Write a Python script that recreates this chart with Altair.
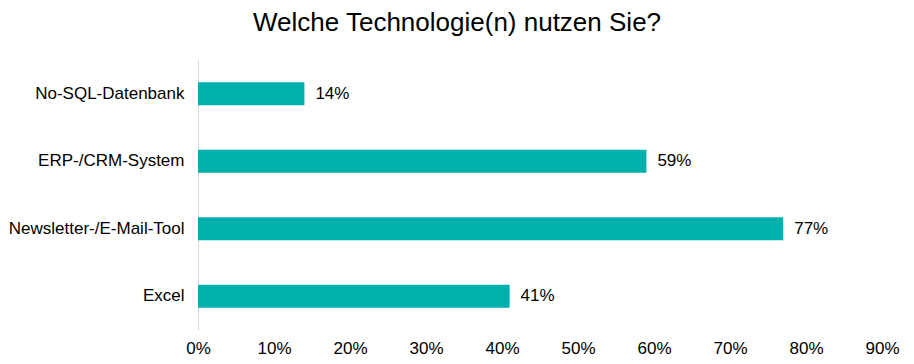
import altair as alt
import pandas as pd

categories = ["No-SQL-Datenbank", "ERP-/CRM-System", "Newsletter-/E-Mail-Tool", "Excel"]
values = [0.14, 0.59, 0.77, 0.41]
x_ticks = [0, 0.1, 0.2, 0.3, 0.4, 0.5, 0.6, 0.7, 0.8, 0.9]

df = pd.DataFrame({"Technologie": categories, "Anteil": values})

FONT = "Liberation Sans"
COLOR = "#00B0AD"

y_enc = alt.Y(
    "Technologie:N",
    sort=categories,
    title=None,
    scale=alt.Scale(paddingInner=0.66, paddingOuter=0.33),
    axis=alt.Axis(
        ticks=False,
        domain=True,
        domainColor="#D9D9D9",
        domainWidth=1,
        labelFont=FONT,
        labelFontSize=17,
        labelColor="#000000",
        labelPadding=14,
        grid=False,
    ),
)

x_enc = alt.X(
    "Anteil:Q",
    title=None,
    scale=alt.Scale(domain=[0, 0.9], nice=False),
    axis=alt.Axis(
        values=x_ticks,
        format=".0%",
        ticks=False,
        domain=False,
        grid=False,
        labelFont=FONT,
        labelFontSize=17,
        labelColor="#000000",
        labelPadding=10,
        labelFlush=False,
    ),
)

bars = alt.Chart(df).mark_bar(color=COLOR).encode(x=x_enc, y=y_enc)

labels = alt.Chart(df).mark_text(
    align="left", baseline="middle", dx=11, font=FONT, fontSize=17, color="#000000"
).encode(
    x=alt.X("Anteil:Q"),
    y=alt.Y("Technologie:N", sort=categories),
    text=alt.Text("Anteil:Q", format=".0%"),
)

chart = (
    alt.layer(bars, labels)
    .properties(
        width=684,
        height=270,
        autosize=alt.AutoSizeParams(type="none"),
        padding={"left": 190, "top": 52, "right": 22, "bottom": 31},
        background="white",
        title=alt.TitleParams(
            "Welche Technologie(n) nutzen Sie?",
            font=FONT,
            fontSize=26,
            fontWeight="normal",
            color="#000000",
            anchor="middle",
            dx=-83,
            offset=24,
        ),
    )
    .configure_view(strokeWidth=0, stroke="transparent")
)

chart.save("out.html", embed_options={"renderer": "svg", "actions": False})
